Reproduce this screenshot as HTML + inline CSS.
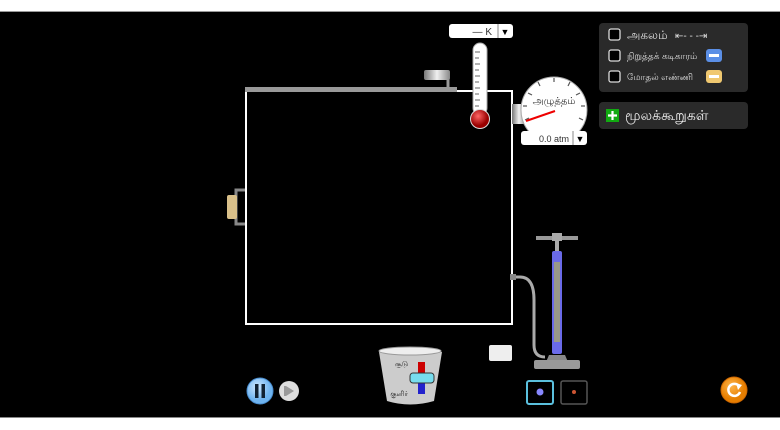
<!DOCTYPE html>
<html><head><meta charset="utf-8"><style>
html,body{margin:0;padding:0;background:#fff;width:780px;height:430px;overflow:hidden}
svg{display:block}
text{font-family:"Liberation Sans","Noto Sans CJK SC",sans-serif}
</style></head><body>
<svg width="780" height="430" viewBox="0 0 780 430">
<defs>
<linearGradient id="bk" x1="0" x2="1"><stop offset="0" stop-color="#777"/><stop offset=".5" stop-color="#f0f0f0"/><stop offset="1" stop-color="#888"/></linearGradient>
<radialGradient id="bulb" cx=".4" cy=".35"><stop offset="0" stop-color="#f66"/><stop offset="1" stop-color="#900"/></radialGradient>
<radialGradient id="or" cx=".4" cy=".35"><stop offset="0" stop-color="#ffb347"/><stop offset="1" stop-color="#e67e00"/></radialGradient>
<radialGradient id="bl" cx=".4" cy=".35"><stop offset="0" stop-color="#cfe8ff"/><stop offset="1" stop-color="#6fb4f0"/></radialGradient>
</defs>
<rect x="0" y="0" width="780" height="430" fill="#fff"/>
<rect x="0" y="11" width="780" height="1" fill="#999"/>
<rect x="0" y="12" width="780" height="405" fill="#000"/>
<rect x="0" y="417" width="780" height="1" fill="#888"/>

<rect x="246" y="91" width="266" height="233" fill="none" stroke="#fff" stroke-width="2"/>
<rect x="245" y="87" width="212" height="5" fill="#999"/>
<path d="M448 88 V78 H440" fill="none" stroke="#999" stroke-width="3"/>
<rect x="424" y="70" width="26" height="10" rx="2" fill="url(#bk)"/>
<path d="M245 190 H236 V224 H245" fill="none" stroke="#888" stroke-width="3"/>
<rect x="227" y="195" width="10" height="24" rx="2" fill="#d9c08a"/>

<rect x="449" y="24" width="64" height="14" rx="3" fill="#fff"/>
<line x1="498" y1="24" x2="498" y2="38" stroke="#888"/>
<text x="492" y="35" font-size="10" text-anchor="end" fill="#333">— K</text>
<text x="505" y="35" font-size="9" text-anchor="middle" fill="#000">▼</text>
<rect x="473" y="43" width="14" height="72" rx="7" fill="#fff" stroke="#aaa"/>
<g stroke="#666" stroke-width="1">
<line x1="475" y1="52" x2="480" y2="52"/><line x1="475" y1="58" x2="479" y2="58"/><line x1="475" y1="64" x2="480" y2="64"/><line x1="475" y1="70" x2="479" y2="70"/><line x1="475" y1="76" x2="480" y2="76"/><line x1="475" y1="82" x2="479" y2="82"/><line x1="475" y1="88" x2="480" y2="88"/><line x1="475" y1="94" x2="479" y2="94"/><line x1="475" y1="100" x2="480" y2="100"/><line x1="475" y1="106" x2="479" y2="106"/></g>
<circle cx="480" cy="119" r="9.5" fill="url(#bulb)" stroke="#ddd"/>

<rect x="512" y="104" width="14" height="20" fill="url(#bk)"/>
<circle cx="554" cy="110" r="33" fill="#fff" stroke="#aaa"/>
<g stroke="#555" stroke-width="1.2">
<line x1="525" y1="120" x2="529" y2="118"/><line x1="523" y1="106" x2="527" y2="106"/><line x1="528" y1="93" x2="532" y2="95"/><line x1="538" y1="82" x2="540" y2="86"/><line x1="554" y1="78" x2="554" y2="82"/><line x1="570" y1="82" x2="568" y2="86"/><line x1="580" y1="93" x2="576" y2="95"/><line x1="585" y1="106" x2="581" y2="106"/><line x1="583" y1="120" x2="579" y2="118"/></g>
<text x="554" y="104" font-size="10" text-anchor="middle" fill="#333">அழுத்தம்</text>
<line x1="526" y1="121" x2="555" y2="111" stroke="#e00" stroke-width="2"/>
<rect x="521" y="131" width="66" height="14" rx="3" fill="#fff"/>
<line x1="573" y1="131" x2="573" y2="145" stroke="#888"/>
<text x="569" y="142" font-size="9" text-anchor="end" fill="#333">0.0 atm</text>
<text x="580" y="142" font-size="9" text-anchor="middle">▼</text>

<path d="M512 277 H520 Q534 277 534 300 V345 Q534 357 545 357" fill="none" stroke="#aaa" stroke-width="3"/>
<rect x="510" y="274" width="6" height="6" fill="#888"/>
<rect x="536" y="236" width="42" height="4" fill="#999"/>
<rect x="552" y="233" width="10" height="8" fill="#aaa"/>
<rect x="555" y="240" width="4" height="11" fill="#aaa"/>
<rect x="552" y="251" width="10" height="103" rx="2" fill="#6a6ae8"/>
<rect x="554" y="262" width="6" height="80" fill="#998"/>
<path d="M549 355 H565 L568 362 H546 Z" fill="#888"/>
<rect x="534" y="360" width="46" height="9" rx="2" fill="#999"/>

<path d="M379 352 Q410 344 442 352 L434 401 Q410 408 387 401 Z" fill="#ccc"/>
<ellipse cx="410" cy="351" rx="31" ry="4" fill="#eee" stroke="#999"/>
<rect x="418" y="362" width="7" height="15" fill="#c00"/>
<rect x="418" y="378" width="7" height="16" fill="#22c"/>
<rect x="410" y="373" width="24" height="10" rx="3" fill="#7de" stroke="#333"/>
<text x="408" y="366" font-size="7" text-anchor="end" fill="#222">சூடு</text>
<text x="408" y="396" font-size="7" text-anchor="end" fill="#222">குளிர்</text>

<rect x="489" y="345" width="23" height="16" rx="2" fill="#eee"/>

<circle cx="260" cy="391" r="13" fill="url(#bl)" stroke="#4a8ed0"/>
<rect x="255" y="384" width="3.5" height="14" fill="#123"/><rect x="261.5" y="384" width="3.5" height="14" fill="#123"/>
<circle cx="289" cy="391" r="10" fill="#ddd"/>
<path d="M286 386 L294 391 L286 396 Z" fill="#999"/><rect x="284" y="386" width="2" height="10" fill="#999"/>

<rect x="527" y="381" width="26" height="23" rx="2" fill="#000" stroke="#5bc0de" stroke-width="2"/>
<circle cx="540" cy="392" r="3.5" fill="#88f"/>
<rect x="561" y="381" width="26" height="23" rx="2" fill="#000" stroke="#555" stroke-width="1.5"/>
<circle cx="574" cy="392" r="2" fill="#c53"/>

<circle cx="734" cy="390" r="13" fill="url(#or)" stroke="#c60"/>
<path d="M739 386 A6 6 0 1 0 740 392" fill="none" stroke="#fff" stroke-width="2.5"/>
<path d="M736 383 L742 385 L738 390 Z" fill="#fff"/>

<rect x="599" y="23" width="149" height="69" rx="4" fill="#2a2a2a"/>
<rect x="609" y="29" width="11" height="11" rx="2" fill="#000" stroke="#ddd" stroke-width="1.3"/>
<text x="627" y="39" font-size="12" fill="#ddd">அகலம்</text>
<text x="675" y="39" font-size="10" fill="#ddd">⇤- - -⇥</text>
<rect x="609" y="50" width="11" height="11" rx="2" fill="#000" stroke="#ddd" stroke-width="1.3"/>
<text x="627" y="59" font-size="9" fill="#ddd">நிறுத்தக் கடிகாரம்</text>
<rect x="706" y="49" width="16" height="13" rx="3" fill="#5b8fe6"/><rect x="709" y="54" width="10" height="3" fill="#fff"/>
<rect x="609" y="71" width="11" height="11" rx="2" fill="#000" stroke="#ddd" stroke-width="1.3"/>
<text x="627" y="80" font-size="9" fill="#ddd">மோதல் எண்ணி</text>
<rect x="706" y="70" width="16" height="13" rx="3" fill="#f0c870"/><rect x="709" y="75" width="10" height="3" fill="#fff"/>

<rect x="599" y="102" width="149" height="27" rx="4" fill="#2a2a2a"/>
<rect x="606" y="109" width="13" height="13" fill="#1a1"/>
<path d="M612.5 111 V120 M608 115.5 H617" stroke="#fff" stroke-width="2.2"/>
<text x="625" y="120" font-size="14" fill="#eee">மூலக்கூறுகள்</text>
</svg>
</body></html>
